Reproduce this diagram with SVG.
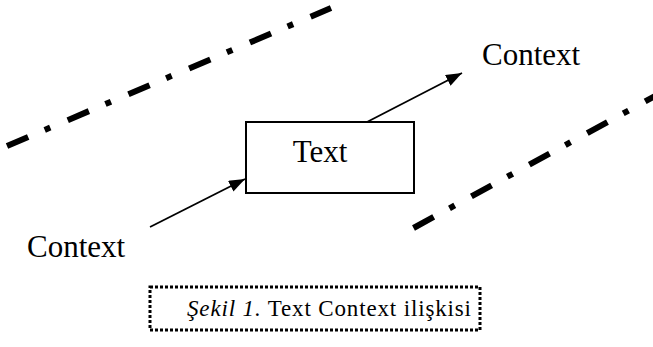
<svg xmlns="http://www.w3.org/2000/svg" width="653" height="347" viewBox="0 0 653 347">
  <style>
    .bg { fill: #ffffff; }
    .dashdot { fill: none; stroke: #000; stroke-width: 6; stroke-dasharray: 23 18 6 19; stroke-linecap: butt; }
    .arrow { fill: none; stroke: #000; stroke-width: 1.8; marker-end: url(#ah); }
    .box { fill: #fff; stroke: #000; stroke-width: 2; }
    .lbl { font-family: "Liberation Serif", "Times New Roman", serif; font-size: 31px; fill: #000; }
    .cap { font-family: "Liberation Serif", "Times New Roman", serif; font-size: 23px; fill: #000; }
    .capbox { fill: none; stroke: #000; stroke-width: 3; stroke-dasharray: 3 2; }
  </style>
  <defs>
    <marker id="ah" markerUnits="userSpaceOnUse" markerWidth="17" markerHeight="13" refX="16" refY="6" orient="auto">
      <path d="M0,0 L16,6 L0,12 z" fill="#000"/>
    </marker>
  </defs>
  <rect class="bg" x="0" y="0" width="653" height="347"/>
  <g id="boundaries">
    <line class="dashdot" x1="7" y1="146" x2="331" y2="8"/>
    <line class="dashdot" x1="413.5" y1="228" x2="660" y2="93.3"/>
  </g>
  <g id="connectors">
    <line class="arrow" x1="150" y1="227" x2="245" y2="179"/>
    <line class="arrow" x1="367" y1="122" x2="462" y2="73"/>
  </g>
  <g id="node-text">
    <rect class="box" x="246" y="122" width="168" height="71"/>
    <text class="lbl" x="320" y="162" text-anchor="middle">Text</text>
  </g>
  <g id="node-context-in">
    <text class="lbl" x="27" y="257">Context</text>
  </g>
  <g id="node-context-out">
    <text class="lbl" x="482" y="65">Context</text>
  </g>
  <g id="caption">
    <rect class="capbox" x="150" y="287" width="330" height="43"/>
    <text class="cap" x="187" y="316" textLength="284" lengthAdjust="spacing"><tspan font-style="italic">Şekil 1.</tspan> Text Context ilişkisi</text>
  </g>
</svg>
